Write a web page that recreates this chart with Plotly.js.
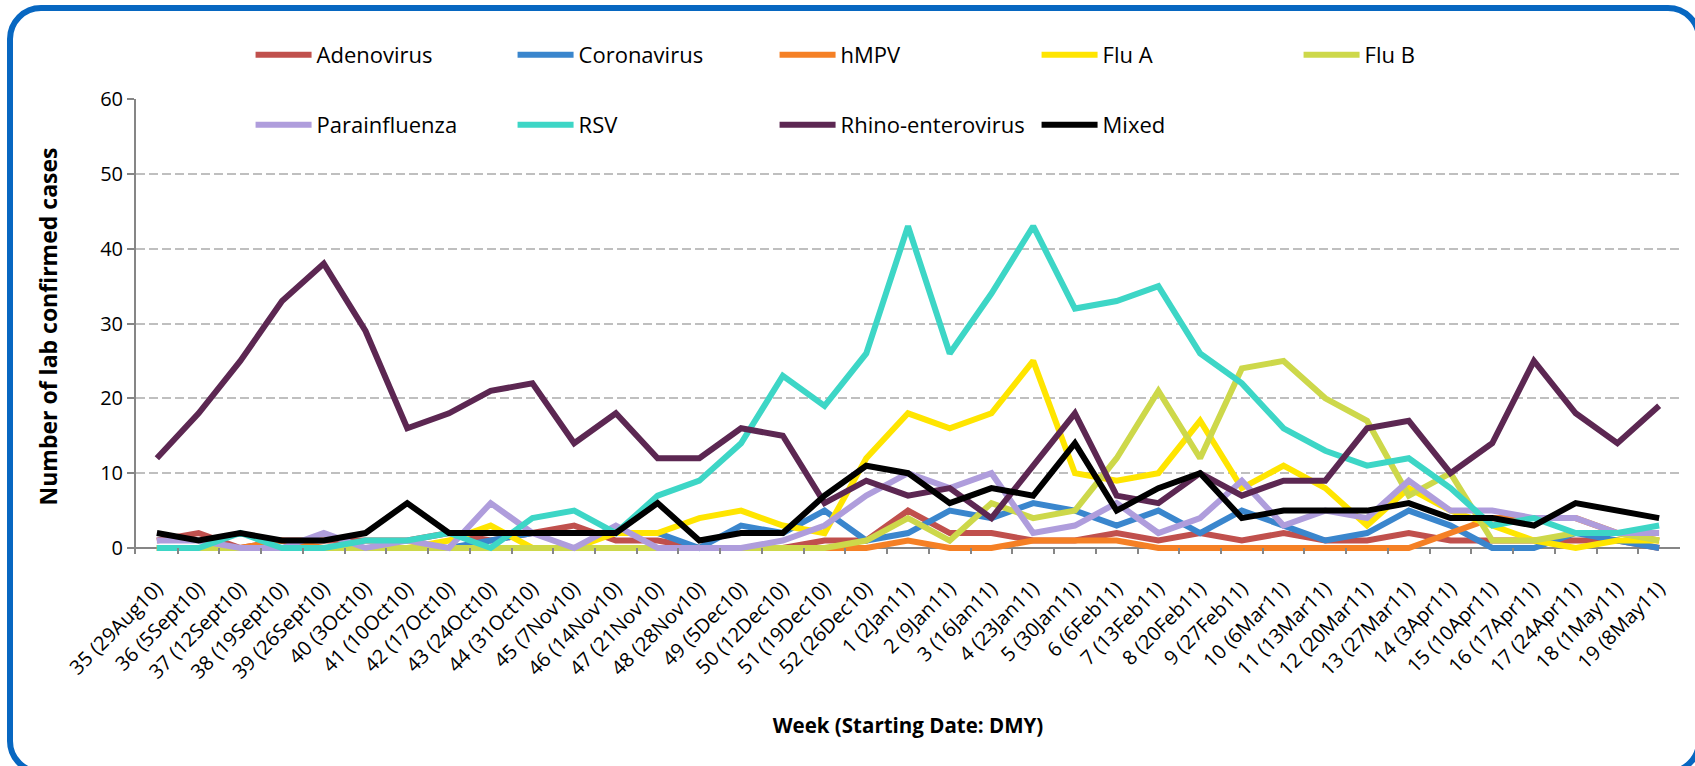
<!DOCTYPE html>
<html>
<head>
<meta charset="utf-8">
<script src="https://cdn.plot.ly/plotly-3.0.1.min.js"></script>
<style>
  html, body { margin: 0; padding: 0; background: #ffffff; overflow: hidden; }
  #wrap { position: relative; width: 1695px; height: 766px; }
  #chart { position: absolute; left: 0; top: 0; width: 1695px; height: 766px; }
  #frame { position: absolute; left: 7px; top: 5px; width: 1695px; height: 770px;
           border: 6px solid #0767C1; border-radius: 34px; box-sizing: border-box; pointer-events: none; }
</style>
</head>
<body>
<div id="wrap">
  <div id="chart"></div>
  <div id="frame"></div>
</div>
<script>
const weeks = ["35 (29Aug10)", "36 (5Sept10)", "37 (12Sept10)", "38 (19Sept10)", "39 (26Sept10)",
  "40 (3Oct10)", "41 (10Oct10)", "42 (17Oct10)", "43 (24Oct10)", "44 (31Oct10)", "45 (7Nov10)",
  "46 (14Nov10)", "47 (21Nov10)", "48 (28Nov10)", "49 (5Dec10)", "50 (12Dec10)", "51 (19Dec10)",
  "52 (26Dec10)", "1 (2Jan11)", "2 (9Jan11)", "3 (16Jan11)", "4 (23Jan11)", "5 (30Jan11)",
  "6 (6Feb11)", "7 (13Feb11)", "8 (20Feb11)", "9 (27Feb11)", "10 (6Mar11)", "11 (13Mar11)",
  "12 (20Mar11)", "13 (27Mar11)", "14 (3Apr11)", "15 (10Apr11)", "16 (17Apr11)", "17 (24Apr11)",
  "18 (1May11)", "19 (8May11)"];

const adenovirus    = [1, 2, 0, 1, 1, 1, 1, 2, 1, 2, 3, 1, 1, 0, 0, 0, 1, 1, 5, 2, 2, 1, 1, 2, 1, 2, 1, 2, 1, 1, 2, 1, 1, 1, 1, 1, 0];
const coronavirus   = [0, 0, 0, 0, 0, 0, 0, 0, 1, 2, 2, 2, 2, 0, 3, 2, 5, 1, 2, 5, 4, 6, 5, 3, 5, 2, 5, 3, 1, 2, 5, 3, 0, 0, 2, 1, 0];
const hmpv          = [0, 0, 0, 1, 0, 0, 0, 0, 0, 0, 0, 0, 0, 0, 0, 0, 0, 0, 1, 0, 0, 1, 1, 1, 0, 0, 0, 0, 0, 0, 0, 2, 4, 4, 4, 2, 1];
const fluA          = [0, 0, 0, 0, 0, 0, 0, 1, 3, 0, 0, 2, 2, 4, 5, 3, 2, 12, 18, 16, 18, 25, 10, 9, 10, 17, 8, 11, 8, 3, 8, 5, 3, 1, 0, 1, 1];
const fluB          = [0, 0, 0, 0, 0, 0, 0, 0, 0, 0, 0, 0, 0, 0, 0, 0, 0, 1, 4, 1, 6, 4, 5, 12, 21, 12, 24, 25, 20, 17, 7, 10, 1, 1, 2, 2, 1];
const parainfluenza = [1, 1, 0, 0, 2, 0, 1, 0, 6, 2, 0, 3, 0, 0, 0, 1, 3, 7, 10, 8, 10, 2, 3, 6, 2, 4, 9, 3, 5, 4, 9, 5, 5, 4, 4, 2, 2];
const rsv           = [0, 0, 2, 0, 0, 1, 1, 2, 0, 4, 5, 2, 7, 9, 14, 23, 19, 26, 43, 26, 34, 43, 32, 33, 35, 26, 22, 16, 13, 11, 12, 8, 3, 4, 2, 2, 3];
const rhino         = [12, 18, 25, 33, 38, 29, 16, 18, 21, 22, 14, 18, 12, 12, 16, 15, 6, 9, 7, 8, 4, 11, 18, 7, 6, 10, 7, 9, 9, 16, 17, 10, 14, 25, 18, 14, 19];
const mixed         = [2, 1, 2, 1, 1, 2, 6, 2, 2, 2, 2, 2, 6, 1, 2, 2, 7, 11, 10, 6, 8, 7, 14, 5, 8, 10, 4, 5, 5, 5, 6, 4, 4, 3, 6, 5, 4];

const seriesNames  = ["Adenovirus", "Coronavirus", "hMPV", "Flu A", "Flu B",
                      "Parainfluenza", "RSV", "Rhino-enterovirus", "Mixed"];
const seriesValues = [adenovirus, coronavirus, hmpv, fluA, fluB, parainfluenza, rsv, rhino, mixed];
const seriesColors = ["#C0504D", "#3A86CD", "#F58025", "#FFE500", "#CDD84A",
                      "#AF9DDC", "#3DD6C6", "#5C2752", "#000000"];

const FONT = "Open Sans, Noto Sans, sans-serif";

const traces = seriesNames.map((name, i) => ({
  type: "scatter",
  mode: "lines",
  name: name,
  x: weeks,
  y: seriesValues[i],
  line: { color: seriesColors[i], width: 6 },
  legend: i < 5 ? "legend" : "legend2",
  hoverinfo: "x+y+name"
}));

const legendCommon = {
  orientation: "h",
  xanchor: "left",
  yanchor: "middle",
  x: 0.0742,
  font: { family: FONT, size: 22, color: "#000000" },
  bgcolor: "rgba(0,0,0,0)",
  itemwidth: 56,
  entrywidth: 191,
  entrywidthmode: "pixels",
  traceorder: "normal"
};

const layout = {
  width: 1695,
  height: 766,
  margin: { l: 136, r: 15, t: 99, b: 212 },
  paper_bgcolor: "#ffffff",
  plot_bgcolor: "#ffffff",
  font: { family: FONT, color: "#000000" },
  showlegend: true,
  legend: Object.assign({}, legendCommon, { y: 1.0967 }),
  legend2: Object.assign({}, legendCommon, { y: 0.943 }),
  xaxis: {
    type: "category",
    range: [-0.5, 36.5],
    tickangle: -45,
    tickson: "boundaries",
    ticks: "inside",
    ticklen: 6,
    tickwidth: 2,
    tickcolor: "#868686",
    ticklabelstandoff: 18,
    showline: false,
    showgrid: false,
    zeroline: false,
    tickfont: { family: FONT, size: 20, color: "#000000" },
    title: { text: "<b>Week (Starting Date: DMY)</b>", font: { family: FONT, size: 20.5, color: "#000000" }, standoff: 35 },
    automargin: false
  },
  yaxis: {
    range: [-0.8, 60],
    tickvals: [0, 10, 20, 30, 40, 50, 60],
    ticks: "outside",
    ticklen: 7,
    tickwidth: 2,
    tickcolor: "#868686",
    showline: true,
    linecolor: "#868686",
    linewidth: 2,
    showgrid: true,
    gridcolor: "#BFBFBF",
    gridwidth: 2,
    griddash: "9px,4px",
    zeroline: true,
    zerolinecolor: "#868686",
    zerolinewidth: 2,
    tickfont: { family: FONT, size: 20, color: "#000000" },
    title: { text: "<b>Number of lab confirmed cases</b>", font: { family: FONT, size: 23, color: "#000000" }, standoff: 36 },
    automargin: false
  }
};

Plotly.newPlot("chart", traces, layout, { displayModeBar: false, staticPlot: true });
</script>
</body>
</html>
